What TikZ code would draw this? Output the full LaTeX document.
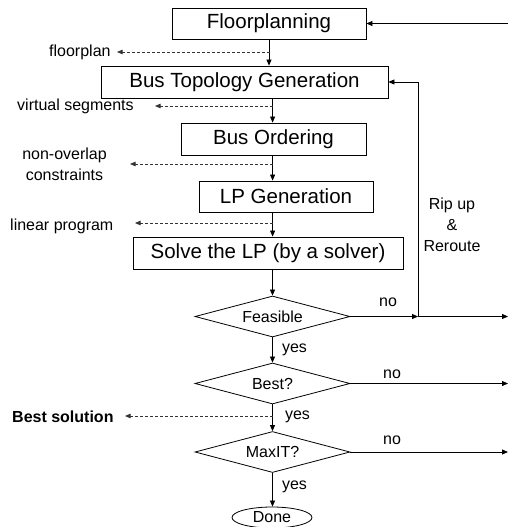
\documentclass[tikz,border=0pt]{standalone}
\usepackage{fontspec}
\setmainfont{Liberation Sans}
\usetikzlibrary{arrows.meta,shapes.geometric}
\tikzset{
  flow/.style={draw=black, line width=0.75pt, -{Triangle[length=6pt,width=5pt]}},
  dataout/.style={draw=black!80, line width=0.7pt, dash pattern=on 3pt off 2pt, -{Triangle[length=5.5pt,width=4.5pt]}},
  stepbox/.style={draw=black, line width=0.8pt, rectangle, inner sep=0pt, font=\fontsize{20.5}{24}\selectfont},
  decision/.style={draw=black, line width=0.8pt, diamond, inner sep=0pt, shape aspect=3.78,
    minimum width=155pt, minimum height=41pt, font=\fontsize{16}{19}\selectfont},
  lbl/.style={inner sep=0pt, font=\fontsize{16}{21}\selectfont},
}
\begin{document}
\begin{tikzpicture}[x=1pt,y=-1pt]
\useasboundingbox (0,0) rectangle (508,527);

% process steps
\node[stepbox, minimum width=194pt, minimum height=31pt] (fp)  at (269,23.5)  {Floorplanning};
\node[stepbox, minimum width=287pt, minimum height=32pt] (btg) at (244.5,82)  {Bus Topology Generation};
\node[stepbox, minimum width=185pt, minimum height=32pt] (bo)  at (273.5,139) {Bus Ordering};
\node[stepbox, minimum width=174pt, minimum height=31pt] (lpg) at (286,196.5) {LP Generation};
\node[stepbox, minimum width=270pt, minimum height=32pt] (slv) at (268,253)   {Solve the LP (by a solver)};

% decisions
\node[decision] (fe) at (272.5,316.5) {Feasible};
\node[decision] (be) at (272.5,383.5) {Best?};
\node[decision] (mx) at (272.5,452)   {MaxIT?};
\node[draw=black, line width=0.8pt, ellipse, inner sep=0pt, minimum width=80pt, minimum height=21pt,
  font=\fontsize{16}{19}\selectfont] (done) at (272,517.5) {Done};

% main axis
\coordinate (ax) at (272.6,0);
\draw[flow] (fp.south) -- (btg.north -| fp.south);
\draw[flow] (btg.south -| ax) -- (bo.north -| ax);
\draw[flow] (bo.south -| ax) -- (lpg.north -| ax);
\draw[flow] (lpg.south -| ax) -- (slv.north -| ax);
\draw[flow] (slv.south -| fe.north) -- (fe.north);
\draw[flow] (fe.south) -- (be.north);
\draw[flow] (be.south) -- (mx.north);
\draw[flow] (mx.south) -- (done.north -| mx.south);

% intermediate results
\node[lbl, anchor=west] (l1) at (49,52) {floorplan};
\node[lbl, anchor=west] (l2) at (17,106) {virtual segments};
\node[lbl, align=center] (l3) at (64.5,164.5) {non-overlap\\constraints};
\node[lbl, anchor=west] (l4) at (10,226) {linear program};
\node[lbl, anchor=west, font=\fontsize{16}{19}\selectfont\bfseries] (l5) at (12,417) {Best solution};

\coordinate (d1) at (270,52);
\coordinate (d2) at (272.6,106);
\coordinate (d3) at (272.6,164);
\coordinate (d4) at (272.6,223);
\coordinate (d5) at (272.6,416);
\coordinate (t1) at (117,52);
\coordinate (t2) at (155,106);
\coordinate (t3) at (130,164);
\coordinate (t4) at (135,223);
\coordinate (t5) at (125,416);
\draw[dataout] (d1) -- (t1);
\draw[dataout] (d2) -- (t2);
\draw[dataout] (d3) -- (t3);
\draw[dataout] (d4) -- (t4);
\draw[dataout] (d5) -- (t5);

% feedback loops
\coordinate (edge) at (508,0);
\draw[flow] (fp.east -| edge) -- (fp.east);
\coordinate (rr) at (418,316.5);
\draw[flow] (fe.east) -- (rr);
\draw[flow] (rr) -- (rr -| edge);
\draw[flow] (rr) -- (rr |- btg.east) -- (btg.east);
\draw[flow] (be.east) -- (be.east -| edge);
\draw[flow] (mx.east) -- (mx.east -| edge);

% branch labels
\node[lbl, align=center] (rip) at (452,225) {Rip up\\\&\\Reroute};
\node[lbl] (n1) at (388,302) {no};
\node[lbl] (n2) at (392,374) {no};
\node[lbl] (n3) at (392,440) {no};
\node[lbl] (y1) at (294.5,350) {yes};
\node[lbl] (y2) at (297.5,417) {yes};
\node[lbl] (y3) at (294.5,487) {yes};
\end{tikzpicture}
\end{document}
